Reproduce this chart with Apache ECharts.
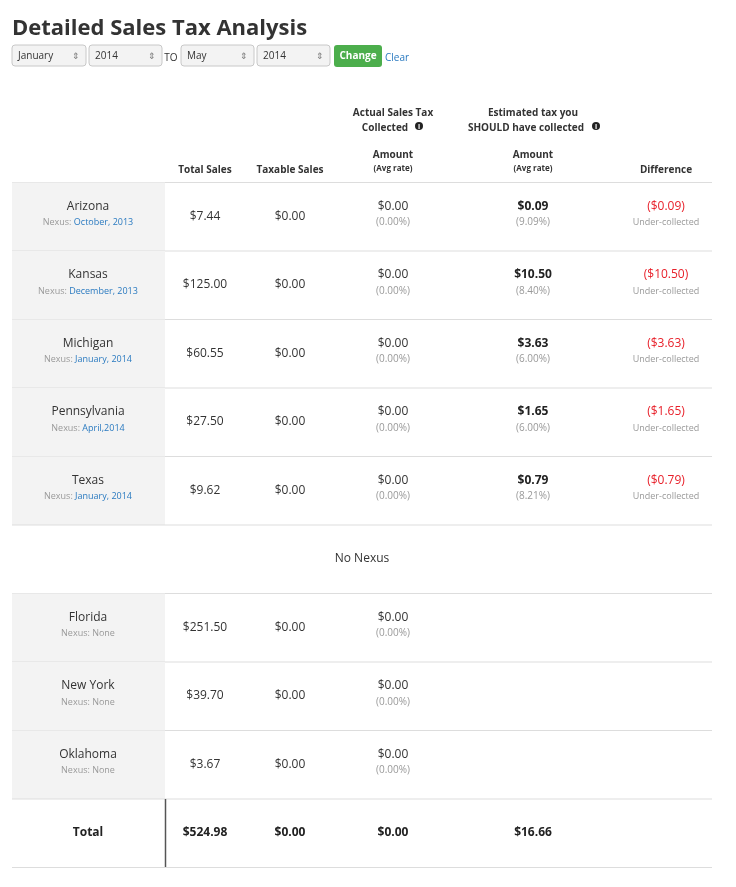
<!DOCTYPE html>
<html><head><meta charset="utf-8">
<script src="https://cdn.jsdelivr.net/npm/echarts@6/dist/echarts.min.js"></script>
<style>html,body{margin:0;background:#fff}#c{width:736px;height:887px}</style>
</head><body><div id="c"></div>
<script>
// nexus states
var nexusStates = ['Arizona','Kansas','Michigan','Pennsylvania','Texas'];
var nexusDates = ['October, 2013','December, 2013','January, 2014','April,2014','January, 2014'];
var nexusTotal = ['$7.44','$125.00','$60.55','$27.50','$9.62'];
var nexusTaxable = ['$0.00','$0.00','$0.00','$0.00','$0.00'];
var nexusActual = ['$0.00','$0.00','$0.00','$0.00','$0.00'];
var nexusActualRate = ['(0.00%)','(0.00%)','(0.00%)','(0.00%)','(0.00%)'];
var nexusEst = ['$0.09','$10.50','$3.63','$1.65','$0.79'];
var nexusEstRate = ['(9.09%)','(8.40%)','(6.00%)','(6.00%)','(8.21%)'];
var nexusDiff = ['($0.09)','($10.50)','($3.63)','($1.65)','($0.79)'];
// no nexus states
var otherStates = ['Florida','New York','Oklahoma'];
var otherTotal = ['$251.50','$39.70','$3.67'];
var otherTaxable = ['$0.00','$0.00','$0.00'];
var otherActual = ['$0.00','$0.00','$0.00'];
var otherActualRate = ['(0.00%)','(0.00%)','(0.00%)'];
var totals = ['$524.98','$0.00','$0.00','$16.66'];

var F = '"Open Sans", sans-serif';
var colX = [88, 205, 290, 393, 533, 666];
var rowH = 68.5;
var els = [];

function txt(x, y, s, size, color, weight, align){
	els.push({type:'text', x:x, y:y, style:{text:s, fontFamily:F, fontSize:size, fill:color||'#333', fontWeight:weight||'normal', align:align||'center', verticalAlign:'middle'}});
}
function rect(x, y, w, h, fill){
	els.push({type:'rect', shape:{x:x, y:y, width:w, height:h}, style:{fill:fill}});
}
function line(x1, y1, x2, y2, color, w){
	els.push({type:'line', shape:{x1:x1, y1:y1, x2:x2, y2:y2}, style:{stroke:color, lineWidth:w||1}});
}
function select(x, w, s){
	els.push({type:'rect', shape:{x:x, y:45, width:w, height:21, r:3}, style:{fill:'#f3f3f3', stroke:'#c8c8c8'}});
	txt(x+6, 56, s, 10, '#333', 'normal', 'left');
	txt(x+w-10, 56, '\u21d5', 9, '#777');
}
function info(x, y){
	els.push({type:'circle', shape:{cx:x, cy:y, r:4}, style:{fill:'#222'}});
	txt(x, y+0.5, 'i', 7, '#fff', 'bold');
}

// title + form
txt(12, 29, 'Detailed Sales Tax Analysis', 22, '#333', 'bold', 'left');
select(12, 74, 'January');
select(89, 73, '2014');
txt(171, 58, 'TO', 10, '#333');
select(181, 73, 'May');
select(257, 73, '2014');
els.push({type:'rect', shape:{x:334, y:45, width:48, height:22, r:3}, style:{fill:'#4cae4c'}});
txt(358, 56, 'Change', 10, '#fff', 'bold');
txt(385, 58, 'Clear', 10, '#2a7ac0', 'normal', 'left');

// header
txt(393, 113, 'Actual Sales Tax', 10, '#333', 'bold');
txt(385, 128, 'Collected', 10, '#333', 'bold');
info(419, 126);
txt(533, 113, 'Estimated tax you', 10, '#333', 'bold');
txt(526, 128, 'SHOULD have collected', 10, '#333', 'bold');
info(596, 126);
txt(393, 155, 'Amount', 10, '#333', 'bold');
txt(393, 169, '(Avg rate)', 8, '#333', 'bold');
txt(533, 155, 'Amount', 10, '#333', 'bold');
txt(533, 169, '(Avg rate)', 8, '#333', 'bold');
txt(205, 170, 'Total Sales', 10, '#333', 'bold');
txt(290, 170, 'Taxable Sales', 10, '#333', 'bold');
txt(666, 170, 'Difference', 10, '#333', 'bold');
line(12, 182.5, 712, 182.5, '#ddd');

function stateRow(y0, name, nexus, total, taxable, act, actRate){
	rect(12, y0, 153, rowH, '#f3f3f3');
	txt(colX[0], y0+24, name, 12, '#333');
	els.push({type:'text', x:colX[0], y:y0+40, style:{
		text:'{g|Nexus: }' + (nexus ? '{b|' + nexus + '}' : '{g|None}'),
		align:'center', verticalAlign:'middle', fontFamily:F,
		rich:{g:{fontSize:9, fill:'#999', fontFamily:F}, b:{fontSize:9, fill:'#2a7ac0', fontFamily:F}}}});
	txt(colX[1], y0+34, total, 12, '#333');
	txt(colX[2], y0+34, taxable, 12, '#333');
	txt(colX[3], y0+24, act, 12, '#333');
	txt(colX[3], y0+40, actRate, 10, '#999');
	line(12, y0+rowH, 712, y0+rowH, '#ddd');
}

nexusStates.forEach(function(s, i){
	var y0 = 182.5 + i*rowH;
	stateRow(y0, s, nexusDates[i], nexusTotal[i], nexusTaxable[i], nexusActual[i], nexusActualRate[i]);
	txt(colX[4], y0+24, nexusEst[i], 12, '#222', 'bold');
	txt(colX[4], y0+40, nexusEstRate[i], 10, '#999');
	txt(colX[5], y0+24, nexusDiff[i], 12, '#e8202a');
	txt(colX[5], y0+40, 'Under-collected', 9, '#999');
});

txt(362, 559, 'No Nexus', 12, '#333');
line(12, 593.5, 712, 593.5, '#ddd');
otherStates.forEach(function(s, i){
	stateRow(593.5 + i*rowH, s, null, otherTotal[i], otherTaxable[i], otherActual[i], otherActualRate[i]);
});

// total row
var ty = 593.5 + 3*rowH;
txt(88, ty+34, 'Total', 12, '#222', 'bold');
[1,2,3,4].forEach(function(c, i){ txt(colX[c], ty+34, totals[i], 12, '#222', 'bold'); });
line(165.5, ty, 165.5, ty+rowH, '#555', 1.5);
line(12, ty+rowH, 712, ty+rowH, '#ddd');

var chart = echarts.init(document.getElementById('c'));
chart.setOption({animation:false, graphic:{elements:els}});
</script>
</body></html>
